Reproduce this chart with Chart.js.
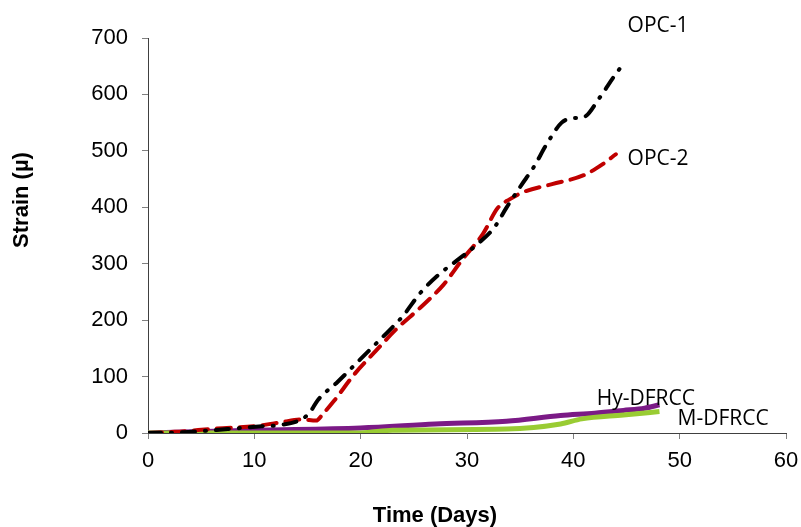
<!DOCTYPE html>
<html><head><meta charset="utf-8">
<script src="https://cdn.jsdelivr.net/npm/chart.js@4"></script>
<style>html,body{margin:0;padding:0;background:#fff}#wrap{width:801px;height:527px}</style>
</head><body><div id="wrap"><canvas id="c" width="801" height="527"></canvas></div>
<script>
// Data
const opc1Days   = [0, 3, 7.5, 10.7, 12.4, 14.5, 15.2, 16, 17.8, 19.4, 21, 22.7, 24, 25.6, 27.3, 29, 31, 32.6, 33.7, 35.1, 36.3, 37.5, 38.9, 40, 41, 42.5, 43.8, 44.8];
const opc1Strain = [0, 1, 7, 12, 14, 25, 36, 59, 90, 120, 150, 182, 208, 248, 280, 305, 335, 365, 399, 439, 472, 512, 550, 558, 560, 595, 631, 657];
const opc2Days   = [0, 2.5, 6.5, 10, 12.5, 14.5, 15.8, 16.5, 17.5, 19.4, 21.4, 23.4, 25.6, 27.8, 29.5, 31.5, 32.9, 34, 35.3, 38, 41, 42.8, 44];
const opc2Strain = [0, 2, 8, 12, 19, 24, 22, 35, 57, 104, 145, 185, 222, 263, 306, 353, 399, 414, 427, 441, 457, 477, 494];
const hyDays     = [0, 10, 20, 27, 33.7, 38.8, 42, 44.7, 46.7, 48.1];
const hyStrain   = [0, 5, 9, 16, 21, 31, 35, 40, 44, 50];
const mDays      = [0, 10, 20, 23, 33.7, 38.8, 40.8, 44.7, 48.1];
const mStrain    = [0, 0, 0, 5, 7, 16, 25, 32, 38];
const xTicks = [0, 10, 20, 30, 40, 50, 60];
const yTicks = [0, 100, 200, 300, 400, 500, 600, 700];
const seriesNames = ['OPC-1', 'OPC-2', 'Hy-DFRCC', 'M-DFRCC'];
// label anchor (data coords) for each series name
const labelDays   = [45.1, 45.1, 42.2, 49.8];
const labelStrain = [721, 485, 60, 24];

const pts = (xs, ys) => xs.map((x, i) => ({x, y: ys[i]}));
const colors = ['#000000', '#c00000', '#7b1a86', '#99cc33'];

const labelPlugin = {
  id: 'labels',
  afterDraw(chart) {
    const {ctx, scales: {x, y}} = chart;
    ctx.save();
    ctx.fillStyle = '#000';
    ctx.textBaseline = 'middle';
    ctx.textAlign = 'left';
    ctx.font = '21px "Open Sans", sans-serif';
    seriesNames.forEach((n, i) => {
      ctx.fillText(n, x.getPixelForValue(labelDays[i]), y.getPixelForValue(labelStrain[i]));
    });
    ctx.font = 'bold 22px "Liberation Sans", Arial, sans-serif';
    ctx.textAlign = 'center';
    ctx.fillText('Time (Days)', 435, 516);
    ctx.translate(22, 200);
    ctx.rotate(-Math.PI / 2);
    ctx.fillText('Strain (\u00b5)', 0, 0);
    ctx.restore();
  }
};

const mk = (label, data, color, dash, order, width) => ({
  label, data, borderColor: color, backgroundColor: color, borderWidth: width,
  borderDash: dash, borderCapStyle: dash.length ? 'round' : 'butt', showLine: true,
  pointRadius: 0, cubicInterpolationMode: 'monotone', order
});

new Chart(document.getElementById('c'), {
  type: 'scatter',
  data: {
    datasets: [
      mk(seriesNames[0], pts(opc1Days, opc1Strain), colors[0], [13, 10, 1, 10], 0, 4),
      mk(seriesNames[1], pts(opc2Days, opc2Strain), colors[1], [14, 9], 1, 4),
      mk(seriesNames[3], pts(mDays, mStrain), colors[3], [], 2, 5),
      mk(seriesNames[2], pts(hyDays, hyStrain), colors[2], [], 3, 5)
    ]
  },
  options: {
    responsive: false, animation: false,
    layout: {padding: {left: 0, right: 15, top: 38, bottom: 0}},
    plugins: {legend: {display: false}, tooltip: {enabled: false}},
    scales: {
      x: {
        type: 'linear', min: 0, max: 60,
        afterBuildTicks: s => { s.ticks = xTicks.map(v => ({value: v})); },
        afterFit: s => { s.height = 94; s.paddingRight = 0; s.paddingLeft = 0; },
        grid: {drawOnChartArea: false, drawTicks: true, tickLength: 6, color: '#808080'},
        border: {color: '#404040', width: 1},
        ticks: {color: '#000', padding: 9, font: {family: '"Liberation Sans", Arial, sans-serif', size: 22}}
      },
      y: {
        type: 'linear', min: 0, max: 700,
        afterBuildTicks: s => { s.ticks = yTicks.map(v => ({value: v})); },
        afterFit: s => { s.width = 148; s.paddingTop = 0; s.paddingBottom = 0; },
        grid: {drawOnChartArea: false, drawTicks: true, tickLength: 6, color: '#808080'},
        border: {color: '#404040', width: 1},
        ticks: {color: '#000', padding: 14, font: {family: '"Liberation Sans", Arial, sans-serif', size: 22}}
      }
    }
  },
  plugins: [labelPlugin]
});
</script></body></html>
